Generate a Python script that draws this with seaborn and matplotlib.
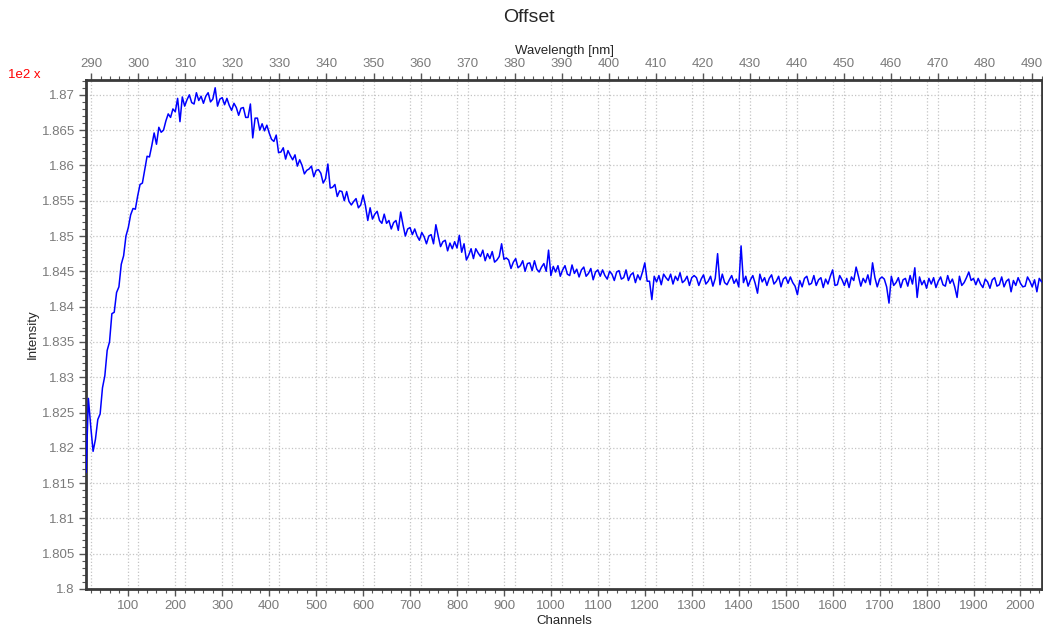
import numpy as np
import pandas as pd
import seaborn as sns
import matplotlib.pyplot as plt
from matplotlib.ticker import MultipleLocator

channels = np.arange(10, 2046, 5)
intensity = [
    181.65, 182.70, 182.30, 181.95, 182.12, 182.40, 182.48, 182.85, 183.02, 183.38, 183.50, 183.90, 183.92, 184.20, 184.28, 184.60, 184.72, 185.00, 185.12, 185.30,
    185.39, 185.38, 185.57, 185.73, 185.75, 185.94, 186.13, 186.12, 186.28, 186.46, 186.30, 186.54, 186.47, 186.50, 186.63, 186.73, 186.68, 186.80, 186.76, 186.95,
    186.62, 186.97, 186.84, 186.93, 187.00, 186.89, 186.87, 187.03, 186.92, 186.98, 186.88, 186.98, 187.03, 186.90, 186.94, 187.10, 186.84, 186.94, 186.96, 186.86,
    186.95, 186.85, 186.78, 186.88, 186.82, 186.71, 186.81, 186.82, 186.68, 186.68, 186.87, 186.39, 186.67, 186.67, 186.50, 186.59, 186.49, 186.57, 186.46, 186.37,
    186.34, 186.43, 186.18, 186.19, 186.25, 186.09, 186.21, 186.14, 186.08, 186.15, 185.99, 186.08, 186.00, 185.88, 185.93, 185.95, 185.99, 185.84, 185.93, 185.94,
    185.89, 185.75, 185.81, 186.02, 185.68, 185.69, 185.73, 185.56, 185.64, 185.63, 185.50, 185.63, 185.49, 185.44, 185.49, 185.53, 185.40, 185.44, 185.58, 185.43,
    185.22, 185.40, 185.24, 185.31, 185.35, 185.22, 185.18, 185.31, 185.18, 185.22, 185.10, 185.19, 185.22, 185.08, 185.34, 185.16, 185.00, 185.10, 185.12, 185.02,
    185.10, 185.00, 184.94, 185.05, 184.99, 184.89, 185.00, 185.02, 184.89, 185.16, 185.00, 184.85, 184.92, 184.94, 184.79, 184.90, 184.82, 184.92, 184.83, 185.01,
    184.77, 184.89, 184.66, 184.73, 184.82, 184.68, 184.82, 184.76, 184.71, 184.80, 184.65, 184.75, 184.68, 184.78, 184.63, 184.66, 184.71, 184.89, 184.67, 184.69,
    184.66, 184.54, 184.63, 184.68, 184.55, 184.58, 184.65, 184.50, 184.61, 184.62, 184.51, 184.65, 184.53, 184.49, 184.56, 184.61, 184.50, 184.80, 184.44, 184.57,
    184.49, 184.58, 184.43, 184.52, 184.58, 184.46, 184.44, 184.59, 184.47, 184.53, 184.42, 184.52, 184.56, 184.43, 184.47, 184.54, 184.38, 184.49, 184.52, 184.43,
    184.52, 184.44, 184.39, 184.50, 184.46, 184.37, 184.49, 184.51, 184.39, 184.41, 184.52, 184.37, 184.45, 184.48, 184.34, 184.45, 184.38, 184.49, 184.62, 184.36,
    184.36, 184.10, 184.43, 184.35, 184.44, 184.31, 184.46, 184.41, 184.37, 184.46, 184.32, 184.43, 184.37, 184.48, 184.34, 184.37, 184.43, 184.30, 184.41, 184.44,
    184.41, 184.30, 184.39, 184.45, 184.32, 184.36, 184.43, 184.29, 184.40, 184.75, 184.31, 184.46, 184.34, 184.31, 184.38, 184.44, 184.33, 184.39, 184.28, 184.86,
    184.34, 184.43, 184.29, 184.38, 184.44, 184.33, 184.19, 184.46, 184.35, 184.41, 184.30, 184.40, 184.45, 184.32, 184.36, 184.43, 184.28, 184.39, 184.42, 184.33,
    184.42, 184.34, 184.29, 184.17, 184.37, 184.28, 184.40, 184.43, 184.31, 184.33, 184.44, 184.30, 184.38, 184.41, 184.27, 184.39, 184.32, 184.43, 184.52, 184.30,
    184.31, 184.44, 184.38, 184.30, 184.40, 184.27, 184.42, 184.37, 184.56, 184.43, 184.29, 184.40, 184.34, 184.45, 184.31, 184.62, 184.41, 184.28, 184.39, 184.42,
    184.39, 184.28, 184.05, 184.43, 184.30, 184.34, 184.41, 184.27, 184.38, 184.40, 184.29, 184.44, 184.32, 184.55, 184.13, 184.42, 184.31, 184.37, 184.26, 184.40,
    184.32, 184.41, 184.27, 184.36, 184.42, 184.31, 184.29, 184.44, 184.33, 184.39, 184.28, 184.13, 184.43, 184.30, 184.34, 184.41, 184.49, 184.37, 184.40, 184.31,
    184.40, 184.32, 184.27, 184.39, 184.35, 184.26, 184.38, 184.41, 184.29, 184.31, 184.42, 184.28, 184.36, 184.39, 184.21, 184.37, 184.30, 184.41, 184.33, 184.28,
    184.29, 184.42, 184.36, 184.28, 184.38, 184.21, 184.40, 184.35,
]

y_ticks = [1.8, 1.805, 1.81, 1.815, 1.82, 1.825, 1.83, 1.835, 1.84, 1.845, 1.85, 1.855, 1.86, 1.865, 1.87]
y_labels = ['1.8', '1.805', '1.81', '1.815', '1.82', '1.825', '1.83', '1.835', '1.84',
            '1.845', '1.85', '1.855', '1.86', '1.865', '1.87']
x_ticks = list(range(100, 2001, 100))
wl_ticks = list(range(290, 491, 10))

df = pd.DataFrame({'Channels': channels, 'Intensity': np.array(intensity) / 100})


def ch2wl(c):
    return 290 + (c - 21.0) / 10.02


def wl2ch(w):
    return 21.0 + (w - 290) * 10.02


sns.set_style('white')
plt.rcParams['font.family'] = ['Liberation Sans', 'DejaVu Sans']

fig = plt.figure(figsize=(10.43, 6.3), dpi=100)
ax = fig.add_axes([0.0825, 0.0651, 0.9166, 0.8079])

# dotted grid for both channel and wavelength ticks
grid_kw = dict(color='#c4c4c4', linestyle=':', linewidth=0.9, zorder=0)
for t in y_ticks:
    ax.axhline(t, **grid_kw)
for t in x_ticks:
    ax.axvline(t, **grid_kw)
for w in wl_ticks:
    ax.axvline(wl2ch(w), **grid_kw)

sns.lineplot(data=df, x='Channels', y='Intensity', ax=ax, color='#0000ff', linewidth=1.1, zorder=3)

ax.set_xlim(10, 2046)
ax.set_ylim(1.8, 1.8721)
ax.set_xticks(x_ticks)
ax.xaxis.set_minor_locator(MultipleLocator(20))
ax.set_yticks(y_ticks)
ax.set_yticklabels(y_labels)
ax.yaxis.set_minor_locator(MultipleLocator(0.001))

tick_grey = '#7a7a7a'
ax.tick_params(axis='both', which='major', direction='out', length=5, width=1, color='#555555',
               labelsize=9.5, labelcolor=tick_grey, pad=3)
ax.tick_params(axis='both', which='minor', direction='out', length=3, width=0.8, color='#555555')
ax.tick_params(axis='x', which='both', bottom=True)
ax.tick_params(axis='y', which='both', left=True)

for s in ax.spines.values():
    s.set_linewidth(2)
    s.set_color('#3a3a3a')

ax.set_xlabel('Channels', fontsize=9.5, labelpad=2)
ax.set_ylabel('Intensity', fontsize=9.5, labelpad=2)

sec = ax.secondary_xaxis('top', functions=(ch2wl, wl2ch))
sec.set_xticks(wl_ticks)
sec.xaxis.set_minor_locator(MultipleLocator(2))
sec.tick_params(axis='x', which='major', direction='out', length=5, width=1, color='#555555',
                labelsize=9.5, labelcolor=tick_grey, pad=2)
sec.tick_params(axis='x', which='minor', direction='out', length=3, width=0.8, color='#555555')
sec.set_xlabel('Wavelength [nm]', fontsize=9.5, labelpad=3)

fig.text(0.507, 0.972, 'Offset', ha='center', va='center', fontsize=14)
fig.text(0.008, 0.881, '1e2 x', ha='left', va='center', fontsize=9.5, color='#ff0000')

fig.savefig('out.png', dpi=100)
